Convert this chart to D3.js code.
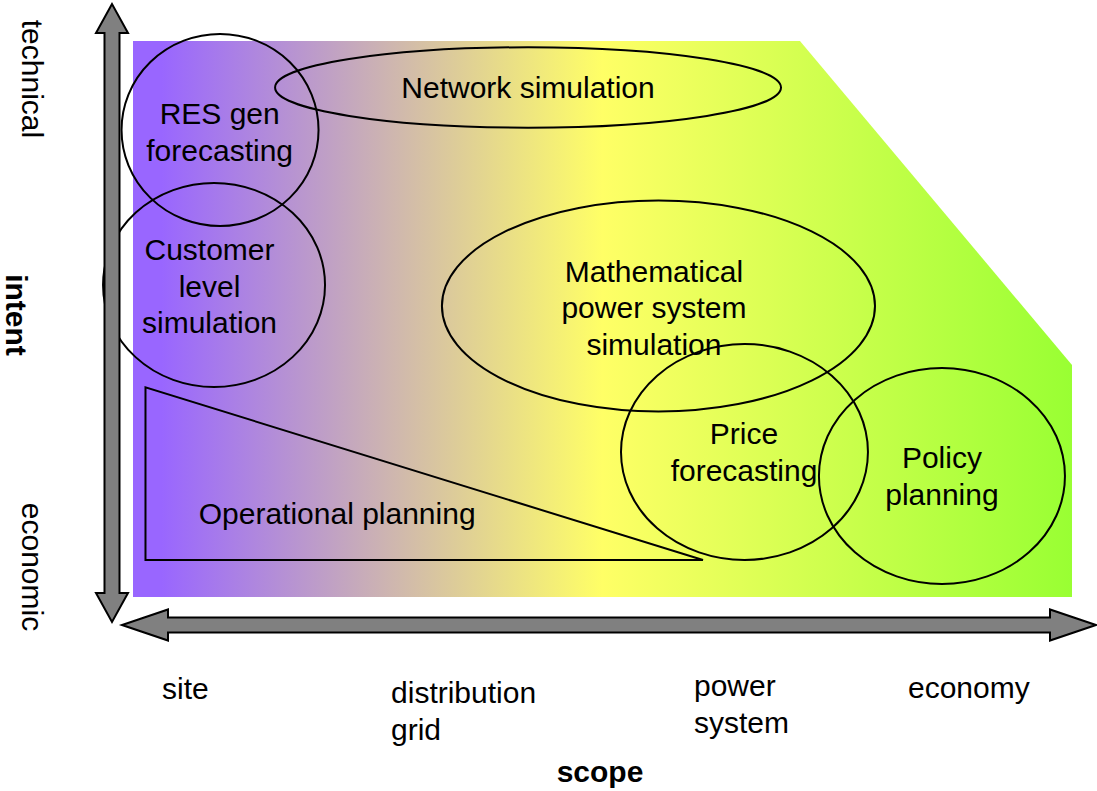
<!DOCTYPE html>
<html lang="en">
<head>
  <meta charset="utf-8">
  <title>Model scope and intent</title>
  <script src="https://d3js.org/d3.v7.min.js"></script>
  <style>
    body { margin: 0; background: #fff; }
    svg text { font-family: "Liberation Sans", Arial, sans-serif; font-size: 30px; fill: #000; }
    .bold { font-weight: bold; }
  </style>
</head>
<body>
  <div id="chart"></div>

  <script>
    "use strict"

    // scope runs 0 (site) .. 100 (economy), intent 0 (economic) .. 100 (technical)
    var regionNames   = ["RES gen forecasting", "Customer level simulation", "Network simulation",
                         "Mathematical power system simulation", "Price forecasting", "Policy planning"];
    var regionScope   = [9.27, 8.63, 42.07, 55.96, 65.12, 86.15];
    var regionIntent  = [84.0, 56.12, 91.64, 52.34, 26.08, 21.76];
    var regionScopeR  = [10.49, 11.82, 26.94, 23.06, 13.15, 13.10];
    var regionIntentR = [17.27, 18.35, 7.23, 18.97, 19.42, 19.42];

    var labelLines  = [["RES gen", "forecasting"], ["Customer", "level", "simulation"], ["Network simulation"],
                       ["Mathematical", "power system", "simulation"], ["Price", "forecasting"], ["Policy", "planning"]];
    var labelScope  = [9.23, 8.15, 42.07, 55.48, 65.07, 86.15];
    var labelIntent = [85.07, 60.61, 89.69, 56.71, 27.52, 23.2];

    // operational planning wedge
    var wedgeScope  = [1.33, 1.33, 60.7];
    var wedgeIntent = [37.71, 6.65, 6.65];
    var wedgeLabel  = "Operational planning";
    var wedgeLabelScope = 7.0, wedgeLabelIntent = 13.08;

    // coloured field (cut corner at top right)
    var fieldScope  = [0, 71.03, 100, 100, 0];
    var fieldIntent = [100, 100, 41.73, 0, 0];

    var scopeTicks      = [["site"], ["distribution", "grid"], ["power", "system"], ["economy"]];
    var scopeTickPos    = [3.09, 27.48, 59.74, 82.53];
    var scopeTickIntent = [-18.35, -19.06, -17.8, -18.17];

    var intentTicks     = ["technical", "economic"];
    var intentTickPos   = [93.17, 5.4];

    var larguraSVG = 1097, alturaSVG = 791;

    var svg = d3.select("#chart").append("svg")
        .attr("width", larguraSVG)
        .attr("height", alturaSVG);

    var x = d3.scaleLinear().domain([0, 100]).range([133, 1072]);
    var y = d3.scaleLinear().domain([0, 100]).range([597, 41]);

    // gradient purple -> yellow -> green across scope
    var grad = svg.append("defs").append("linearGradient")
        .attr("id", "fundo")
        .attr("gradientUnits", "userSpaceOnUse")
        .attr("x1", x(0)).attr("x2", x(100))
        .attr("y1", 0).attr("y2", 0);
    grad.append("stop").attr("offset", 0.03).attr("stop-color", "#9966ff");
    grad.append("stop").attr("offset", 0.5).attr("stop-color", "#ffff66");
    grad.append("stop").attr("offset", 1).attr("stop-color", "#99ff33");

    var linha = d3.line().x(function(d) { return x(d[0]); }).y(function(d) { return y(d[1]); });

    svg.append("path")
        .attr("d", linha(d3.zip(fieldScope, fieldIntent)) + "Z")
        .attr("fill", "url(#fundo)");

    // ellipses
    svg.selectAll("ellipse.regiao")
        .data(regionNames)
        .enter()
        .append("ellipse")
          .attr("class", "regiao")
          .attr("cx", function(d, i) { return x(regionScope[i]); })
          .attr("cy", function(d, i) { return y(regionIntent[i]); })
          .attr("rx", function(d, i) { return x(regionScopeR[i]) - x(0); })
          .attr("ry", function(d, i) { return y(0) - y(regionIntentR[i]); })
          .attr("fill", "none")
          .attr("stroke", "#000")
          .attr("stroke-width", 2);

    svg.append("path")
        .attr("d", linha(d3.zip(wedgeScope, wedgeIntent)) + "Z")
        .attr("fill", "none")
        .attr("stroke", "#000")
        .attr("stroke-width", 2);

    // region labels
    var rotulos = svg.selectAll("text.rotulo")
        .data(labelLines)
        .enter()
        .append("text")
          .attr("class", "rotulo")
          .attr("text-anchor", "middle")
          .attr("x", function(d, i) { return x(labelScope[i]); })
          .attr("y", function(d, i) { return y(labelIntent[i]); });
    rotulos.selectAll("tspan")
        .data(function(d, i) { return d.map(function(t) { return {t: t, i: i}; }); })
        .enter()
        .append("tspan")
          .attr("x", function(d) { return x(labelScope[d.i]); })
          .attr("dy", function(d, j) { return j === 0 ? 0 : "1.22em"; })
          .text(function(d) { return d.t; });

    svg.append("text")
        .attr("x", x(wedgeLabelScope))
        .attr("y", y(wedgeLabelIntent))
        .text(wedgeLabel);

    // double headed arrows
    function seta(x1, y1, x2, y2, hl, hw, sw) {
      var dx = x2 - x1, dy = y2 - y1, len = Math.sqrt(dx * dx + dy * dy);
      var ux = dx / len, uy = dy / len, nx = -uy, ny = ux;
      function p(a, b) { return [x1 + ux * a + nx * b, y1 + uy * a + ny * b]; }
      var pts = [p(0, 0), p(hl, hw), p(hl, sw), p(len - hl, sw), p(len - hl, hw),
                 p(len, 0), p(len - hl, -hw), p(len - hl, -sw), p(hl, -sw), p(hl, -hw)];
      return "M" + pts.map(function(q) { return q.join(","); }).join("L") + "Z";
    }

    svg.append("path")
        .attr("d", seta(x(0) - 21, 4, x(0) - 21, y(0) + 25, 29, 16, 7.5))
        .attr("fill", "#808080").attr("stroke", "#000").attr("stroke-width", 2);

    svg.append("path")
        .attr("d", seta(x(0) - 11, y(0) + 28, 1096, y(0) + 28, 46, 15.5, 7.5))
        .attr("fill", "#808080").attr("stroke", "#000").attr("stroke-width", 2);

    // scope tick labels
    var ticks = svg.selectAll("text.escopo")
        .data(scopeTicks)
        .enter()
        .append("text")
          .attr("class", "escopo")
          .attr("x", function(d, i) { return x(scopeTickPos[i]); })
          .attr("y", function(d, i) { return y(scopeTickIntent[i]); });
    ticks.selectAll("tspan")
        .data(function(d, i) { return d.map(function(t) { return {t: t, i: i}; }); })
        .enter()
        .append("tspan")
          .attr("x", function(d) { return x(scopeTickPos[d.i]); })
          .attr("dy", function(d, j) { return j === 0 ? 0 : "1.25em"; })
          .text(function(d) { return d.t; });

    svg.append("text")
        .attr("class", "bold")
        .attr("text-anchor", "middle")
        .attr("x", 600)
        .attr("y", 782)
        .text("scope");

    // intent labels, rotated to read downward
    svg.selectAll("text.intencao")
        .data(intentTicks)
        .enter()
        .append("text")
          .attr("class", "intencao")
          .attr("text-anchor", "middle")
          .attr("transform", function(d, i) { return "translate(22," + y(intentTickPos[i]) + ") rotate(90)"; })
          .text(function(d) { return d; });

    svg.append("text")
        .attr("class", "bold")
        .attr("text-anchor", "middle")
        .attr("transform", "translate(5.5,315) rotate(90)")
        .text("intent");
  </script>
</body>
</html>
